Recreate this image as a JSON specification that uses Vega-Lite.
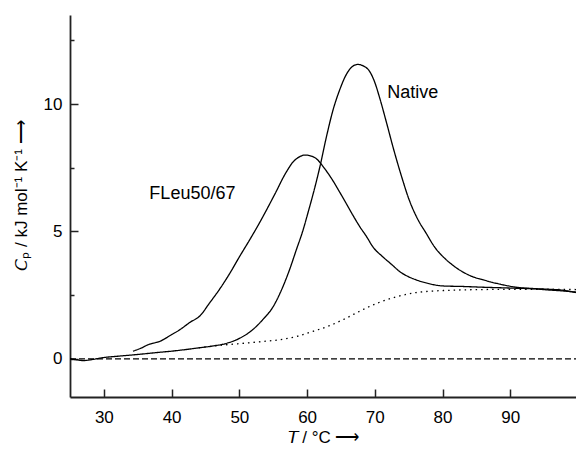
{
  "$schema": "https://vega.github.io/schema/vega-lite/v6.json",
  "width": 506,
  "height": 382,
  "autosize": "none",
  "padding": {"left": 70, "top": 15, "right": 0, "bottom": 55},
  "background": "white",
  "config": {
    "view": {"stroke": null},
    "font": "Liberation Sans",
    "axis": {
      "domainColor": "#222", "domainWidth": 1.8, "tickColor": "#222", "tickWidth": 1.5,
      "labelColor": "black", "labelFontSize": 17, "labelFont": "Liberation Sans",
      "titleColor": "black", "titleFontSize": 17, "titleFont": "Liberation Sans", "titleFontWeight": "normal",
      "grid": false, "labelOverlap": false, "labelFlush": false
    }
  },
  "datasets": {
    "curves": [
      {"T": 25, "Cp": 0.0, "s": "Native"}, {"T": 26, "Cp": -0.04, "s": "Native"}, {"T": 27, "Cp": -0.07, "s": "Native"},
      {"T": 28, "Cp": -0.04, "s": "Native"}, {"T": 30, "Cp": 0.05, "s": "Native"}, {"T": 32, "Cp": 0.1, "s": "Native"},
      {"T": 35, "Cp": 0.17, "s": "Native"}, {"T": 38, "Cp": 0.25, "s": "Native"}, {"T": 40, "Cp": 0.3, "s": "Native"},
      {"T": 42, "Cp": 0.36, "s": "Native"}, {"T": 44, "Cp": 0.43, "s": "Native"}, {"T": 46, "Cp": 0.5, "s": "Native"},
      {"T": 48, "Cp": 0.6, "s": "Native"}, {"T": 50, "Cp": 0.8, "s": "Native"}, {"T": 52, "Cp": 1.15, "s": "Native"},
      {"T": 53.5, "Cp": 1.55, "s": "Native"}, {"T": 55, "Cp": 2.05, "s": "Native"}, {"T": 56.3, "Cp": 2.75, "s": "Native"},
      {"T": 57.4, "Cp": 3.49, "s": "Native"}, {"T": 58.4, "Cp": 4.27, "s": "Native"}, {"T": 59.4, "Cp": 5.05, "s": "Native"},
      {"T": 60.2, "Cp": 5.8, "s": "Native"}, {"T": 60.9, "Cp": 6.48, "s": "Native"}, {"T": 61.9, "Cp": 7.55, "s": "Native"},
      {"T": 62.8, "Cp": 8.65, "s": "Native"}, {"T": 63.8, "Cp": 9.74, "s": "Native"}, {"T": 64.8, "Cp": 10.55, "s": "Native"},
      {"T": 65.8, "Cp": 11.17, "s": "Native"}, {"T": 66.7, "Cp": 11.48, "s": "Native"}, {"T": 67.5, "Cp": 11.56, "s": "Native"},
      {"T": 68.3, "Cp": 11.5, "s": "Native"}, {"T": 69.2, "Cp": 11.3, "s": "Native"}, {"T": 70, "Cp": 10.85, "s": "Native"},
      {"T": 70.7, "Cp": 10.26, "s": "Native"}, {"T": 71.7, "Cp": 9.3, "s": "Native"}, {"T": 72.7, "Cp": 8.3, "s": "Native"},
      {"T": 73.9, "Cp": 7.2, "s": "Native"}, {"T": 75.1, "Cp": 6.22, "s": "Native"}, {"T": 76.3, "Cp": 5.5, "s": "Native"},
      {"T": 77.6, "Cp": 4.92, "s": "Native"}, {"T": 78.8, "Cp": 4.4, "s": "Native"}, {"T": 80.1, "Cp": 4.0, "s": "Native"},
      {"T": 81.3, "Cp": 3.72, "s": "Native"}, {"T": 82.5, "Cp": 3.49, "s": "Native"}, {"T": 84.2, "Cp": 3.25, "s": "Native"},
      {"T": 86, "Cp": 3.1, "s": "Native"}, {"T": 88.5, "Cp": 2.93, "s": "Native"}, {"T": 90.9, "Cp": 2.81, "s": "Native"},
      {"T": 93.3, "Cp": 2.76, "s": "Native"}, {"T": 95.8, "Cp": 2.73, "s": "Native"}, {"T": 97.5, "Cp": 2.7, "s": "Native"},
      {"T": 99.7, "Cp": 2.6, "s": "Native"},

      {"T": 34.3, "Cp": 0.3, "s": "FLeu50/67"}, {"T": 35.5, "Cp": 0.42, "s": "FLeu50/67"}, {"T": 36.5, "Cp": 0.55, "s": "FLeu50/67"},
      {"T": 38.3, "Cp": 0.69, "s": "FLeu50/67"}, {"T": 40, "Cp": 0.95, "s": "FLeu50/67"}, {"T": 41.2, "Cp": 1.14, "s": "FLeu50/67"},
      {"T": 42.7, "Cp": 1.43, "s": "FLeu50/67"}, {"T": 44.2, "Cp": 1.69, "s": "FLeu50/67"}, {"T": 45.6, "Cp": 2.19, "s": "FLeu50/67"},
      {"T": 47, "Cp": 2.7, "s": "FLeu50/67"}, {"T": 48.6, "Cp": 3.36, "s": "FLeu50/67"}, {"T": 50, "Cp": 4.0, "s": "FLeu50/67"},
      {"T": 51.5, "Cp": 4.66, "s": "FLeu50/67"}, {"T": 53, "Cp": 5.35, "s": "FLeu50/67"}, {"T": 54.5, "Cp": 6.09, "s": "FLeu50/67"},
      {"T": 55.5, "Cp": 6.6, "s": "FLeu50/67"}, {"T": 56.5, "Cp": 7.13, "s": "FLeu50/67"}, {"T": 57.2, "Cp": 7.45, "s": "FLeu50/67"},
      {"T": 57.9, "Cp": 7.72, "s": "FLeu50/67"}, {"T": 58.8, "Cp": 7.92, "s": "FLeu50/67"}, {"T": 59.7, "Cp": 8.0, "s": "FLeu50/67"},
      {"T": 60.5, "Cp": 7.97, "s": "FLeu50/67"}, {"T": 61.4, "Cp": 7.85, "s": "FLeu50/67"}, {"T": 62.5, "Cp": 7.5, "s": "FLeu50/67"},
      {"T": 63.8, "Cp": 7.0, "s": "FLeu50/67"}, {"T": 64.8, "Cp": 6.55, "s": "FLeu50/67"}, {"T": 65.8, "Cp": 6.09, "s": "FLeu50/67"},
      {"T": 66.8, "Cp": 5.62, "s": "FLeu50/67"}, {"T": 67.8, "Cp": 5.18, "s": "FLeu50/67"}, {"T": 68.8, "Cp": 4.79, "s": "FLeu50/67"},
      {"T": 69.7, "Cp": 4.4, "s": "FLeu50/67"}, {"T": 71.2, "Cp": 4.0, "s": "FLeu50/67"}, {"T": 72.5, "Cp": 3.7, "s": "FLeu50/67"},
      {"T": 73.7, "Cp": 3.42, "s": "FLeu50/67"}, {"T": 75, "Cp": 3.22, "s": "FLeu50/67"}, {"T": 76.1, "Cp": 3.1, "s": "FLeu50/67"},
      {"T": 78, "Cp": 2.95, "s": "FLeu50/67"}, {"T": 80.1, "Cp": 2.86, "s": "FLeu50/67"}, {"T": 83, "Cp": 2.84, "s": "FLeu50/67"},
      {"T": 86, "Cp": 2.81, "s": "FLeu50/67"}, {"T": 88.5, "Cp": 2.79, "s": "FLeu50/67"}, {"T": 90.9, "Cp": 2.77, "s": "FLeu50/67"},
      {"T": 93.3, "Cp": 2.75, "s": "FLeu50/67"}, {"T": 95.8, "Cp": 2.7, "s": "FLeu50/67"}, {"T": 97.5, "Cp": 2.67, "s": "FLeu50/67"},
      {"T": 99.7, "Cp": 2.62, "s": "FLeu50/67"},

      {"T": 44, "Cp": 0.43, "s": "baseline"}, {"T": 45.2, "Cp": 0.47, "s": "baseline"}, {"T": 48, "Cp": 0.55, "s": "baseline"},
      {"T": 51.1, "Cp": 0.62, "s": "baseline"}, {"T": 53.5, "Cp": 0.68, "s": "baseline"}, {"T": 56, "Cp": 0.75, "s": "baseline"},
      {"T": 58.5, "Cp": 0.88, "s": "baseline"}, {"T": 60.9, "Cp": 1.08, "s": "baseline"}, {"T": 63.3, "Cp": 1.3, "s": "baseline"},
      {"T": 65.8, "Cp": 1.6, "s": "baseline"}, {"T": 68, "Cp": 1.9, "s": "baseline"}, {"T": 70.5, "Cp": 2.2, "s": "baseline"},
      {"T": 73, "Cp": 2.42, "s": "baseline"}, {"T": 76.1, "Cp": 2.6, "s": "baseline"}, {"T": 78.5, "Cp": 2.66, "s": "baseline"},
      {"T": 81, "Cp": 2.69, "s": "baseline"}, {"T": 86, "Cp": 2.72, "s": "baseline"}, {"T": 90.9, "Cp": 2.73, "s": "baseline"},
      {"T": 95, "Cp": 2.73, "s": "baseline"}, {"T": 99.7, "Cp": 2.72, "s": "baseline"},

      {"T": 25, "Cp": 0, "s": "zero"}, {"T": 99.7, "Cp": 0, "s": "zero"}
    ],
    "labels": [
      {"T": 75.6, "Cp": 10.44, "text": "Native"},
      {"T": 43.07, "Cp": 6.48, "text": "FLeu50/67"}
    ]
  },
  "layer": [
    {
      "data": {"name": "curves"},
      "mark": {"type": "line", "color": "black", "strokeWidth": 1.3, "clip": true, "interpolate": "monotone"},
      "encoding": {
        "x": {
          "field": "T", "type": "quantitative",
          "scale": {"domain": [25, 99.7], "nice": false, "zero": false},
          "axis": {
            "values": [30, 35, 40, 45, 50, 55, 60, 65, 70, 75, 80, 85, 90, 95],
            "labelExpr": "datum.value % 10 === 0 ? datum.label : ''",
            "tickSize": {"condition": {"test": "datum.value % 10 === 0", "value": -8}, "value": -4},
            "labelPadding": 20,
            "title": "𝘛 / °C ⟶",
            "titleX": 253, "titleY": 40, "titleBaseline": "middle", "titleAnchor": "middle"
          }
        },
        "y": {
          "field": "Cp", "type": "quantitative",
          "scale": {"domain": [-1.5, 13.5], "nice": false, "zero": false},
          "axis": {
            "values": [0, 2.5, 5, 7.5, 10, 12.5],
            "labelExpr": "datum.value % 5 === 0 ? datum.label : ''",
            "tickSize": {"condition": {"test": "datum.value % 5 === 0", "value": -8}, "value": -4},
            "labelPadding": 16,
            "title": "𝘊ₚ / kJ mol⁻¹ K⁻¹ ⟶",
            "titleX": -49, "titleY": 180, "titleBaseline": "middle", "titleAngle": -90, "titleAlign": "center"
          }
        },
        "detail": {"field": "s"},
        "strokeDash": {
          "field": "s", "type": "nominal",
          "scale": {"domain": ["Native", "FLeu50/67", "baseline", "zero"], "range": [[1, 0], [1, 0], [1.5, 4], [6, 3]]},
          "legend": null
        }
      }
    },
    {
      "data": {"name": "labels"},
      "mark": {"type": "text", "fontSize": 18, "font": "Liberation Sans", "color": "black", "align": "center", "baseline": "middle"},
      "encoding": {
        "x": {"field": "T", "type": "quantitative"},
        "y": {"field": "Cp", "type": "quantitative"},
        "text": {"field": "text"}
      }
    }
  ]
}
